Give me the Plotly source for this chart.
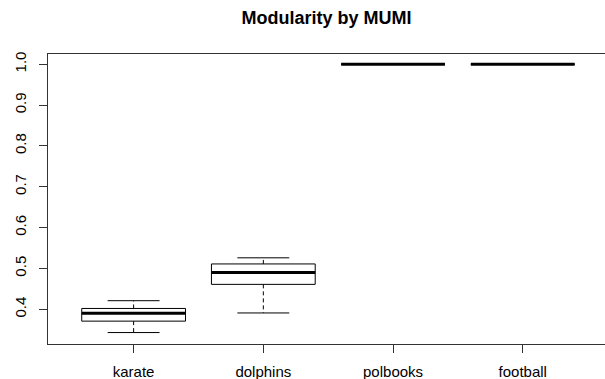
import plotly.graph_objects as go

categories = ["karate", "dolphins", "polbooks", "football"]
lower_whisker = [0.343, 0.391, 1.0, 1.0]
q1 = [0.371, 0.461, 1.0, 1.0]
median = [0.390, 0.490, 1.0, 1.0]
q3 = [0.402, 0.511, 1.0, 1.0]
upper_whisker = [0.421, 0.526, 1.0, 1.0]

y_ticks = [0.4, 0.5, 0.6, 0.7, 0.8, 0.9, 1.0]
y_tick_labels = ["0.4", "0.5", "0.6", "0.7", "0.8", "0.9", "1.0"]

BOXHALF = 0.4
STAPLEHALF = 0.2

box_x, box_y = [], []
med_x, med_y = [], []
wh_x, wh_y = [], []
st_x, st_y = [], []
for i, cat in enumerate(categories):
    c = i + 1
    box_x += [c - BOXHALF, c + BOXHALF, c + BOXHALF, c - BOXHALF, c - BOXHALF, None]
    box_y += [q1[i], q1[i], q3[i], q3[i], q1[i], None]
    med_x += [c - BOXHALF, c + BOXHALF, None]
    med_y += [median[i], median[i], None]
    wh_x += [c, c, None, c, c, None]
    wh_y += [q3[i], upper_whisker[i], None, q1[i], lower_whisker[i], None]
    st_x += [c - STAPLEHALF, c + STAPLEHALF, None, c - STAPLEHALF, c + STAPLEHALF, None]
    st_y += [upper_whisker[i], upper_whisker[i], None, lower_whisker[i], lower_whisker[i], None]

fig = go.Figure()
fig.add_trace(go.Scatter(x=wh_x, y=wh_y, mode="lines",
                         line=dict(color="black", width=1, dash="4px,3px"),
                         hoverinfo="skip", showlegend=False))
fig.add_trace(go.Scatter(x=st_x, y=st_y, mode="lines",
                         line=dict(color="black", width=1),
                         hoverinfo="skip", showlegend=False))
fig.add_trace(go.Scatter(x=box_x, y=box_y, mode="lines",
                         line=dict(color="black", width=1),
                         hoverinfo="skip", showlegend=False))
fig.add_trace(go.Scatter(x=med_x, y=med_y, mode="lines",
                         line=dict(color="black", width=3),
                         hoverinfo="skip", showlegend=False))

font_family = "Liberation Sans, Arial, sans-serif"
fig.update_layout(
    width=605, height=379,
    margin=dict(l=48, r=0, t=54, b=35, autoexpand=False),
    paper_bgcolor="white", plot_bgcolor="white",
    font=dict(family=font_family, color="black", size=15),
    title=dict(text="<b>Modularity by MUMI</b>", x=0.5, xref="paper",
               y=1 - 18 / 379, yref="container", yanchor="middle", xanchor="center",
               automargin=False,
               font=dict(size=18, family=font_family, color="black")),
    xaxis=dict(range=[0.34, 4.634], tickmode="array", tickvals=[1, 2, 3, 4],
               ticktext=categories, showgrid=False, zeroline=False, automargin=False,
               showline=True, linecolor="#333", linewidth=1, mirror=True,
               ticks="outside", ticklen=8, tickcolor="#333",
               ticklabelstandoff=6, tickfont=dict(size=15)),
    yaxis=dict(range=[0.315, 1.025], tickmode="array", tickvals=y_ticks,
               ticktext=y_tick_labels, showgrid=False, zeroline=False, automargin=False,
               showline=True, linecolor="#333", linewidth=1, mirror=False,
               ticks="outside", ticklen=8, tickcolor="#333", tickangle=-90,
               ticklabelstandoff=7, tickfont=dict(size=15)),
)

fig.write_html(
    "out.html",
    config={"displayModeBar": False},
    post_script="document.body.style.margin='0';document.body.style.overflow='hidden';",
)
